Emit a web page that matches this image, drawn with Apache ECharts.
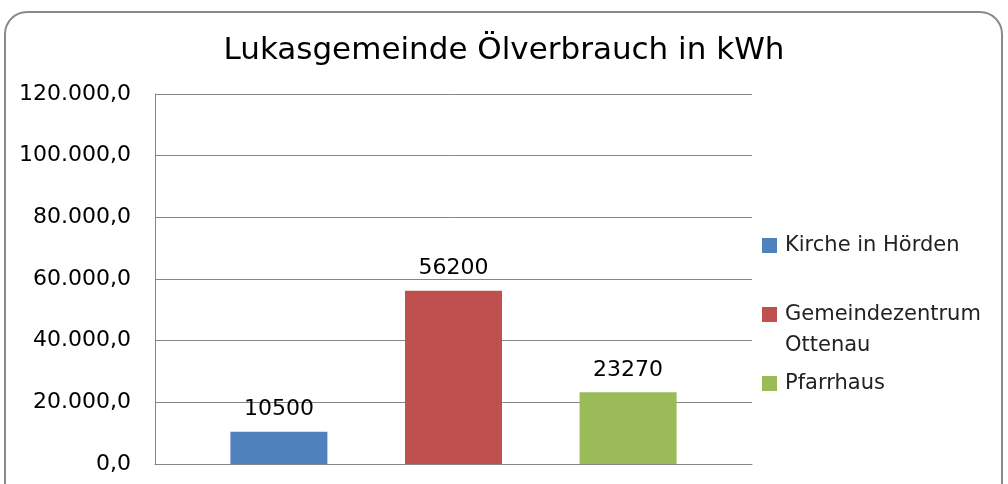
<!DOCTYPE html>
<html>
<head>
<meta charset="utf-8">
<script src="https://cdn.jsdelivr.net/npm/echarts@6/dist/echarts.min.js"></script>
<style>
  html, body { margin: 0; padding: 0; background: #fff; }
  #chart { width: 1008px; height: 484px; }
</style>
</head>
<body>
<div id="chart"></div>
<script>
const categories = [""];
const seriesNames = ["Kirche in Hörden", "Gemeindezentrum\nOttenau", "Pfarrhaus"];
const seriesValues = [[10500], [56200], [23270]];
const seriesColors = ["#4F81BD", "#C0504D", "#9BBB59"];
const yTicks = [0, 20000, 40000, 60000, 80000, 100000, 120000];

// German number format: 120.000,0
function deFormat(v) {
  const s = Math.round(v).toString().replace(/\B(?=(\d{3})+(?!\d))/g, ".");
  return s + ",0";
}

const chart = echarts.init(document.getElementById("chart"));

const font = "DejaVu Sans";

const chartOptions = {
  animation: false,
  title: {
    text: "Lukasgemeinde Ölverbrauch in kWh",
    left: "center",
    top: 30,
    textStyle: { fontFamily: font, fontSize: 31, fontWeight: "normal", color: "#000" },
  },
  graphic: [
    {
      type: "rect",
      shape: { x: 5, y: 12, width: 997, height: 500, r: 22 },
      style: { fill: "none", stroke: "#8a8a8a", lineWidth: 2 },
      silent: true,
    },
  ],
  legend: {
    orient: "vertical",
    left: 757,
    top: 225,
    itemGap: 7,
    itemWidth: 15,
    itemHeight: 15,
    icon: "rect",
    textStyle: { fontFamily: font, fontSize: 21, color: "#222", lineHeight: 31, padding: [0, 0, 0, 3] },
    // multi-line item: empty first line keeps the icon next to the first text line
    formatter: (name) => (name.indexOf("\n") >= 0 ? " \n" + name : name),
    data: seriesNames,
  },
  grid: {
    left: 155,
    right: 256,
    top: 94,
    bottom: 20,
  },
  xAxis: {
    type: "category",
    data: categories,
    axisLine: { lineStyle: { color: "#868686", width: 1 } },
    axisTick: { show: false },
    axisLabel: { show: false },
  },
  yAxis: {
    type: "value",
    min: yTicks[0],
    max: yTicks[yTicks.length - 1],
    interval: 20000,
    axisLine: { show: true, lineStyle: { color: "#868686", width: 1 } },
    axisTick: { show: false },
    splitLine: { lineStyle: { color: "#868686", width: 1 } },
    axisLabel: {
      margin: 24,
      fontFamily: font,
      fontSize: 22,
      color: "#000",
      formatter: deFormat,
    },
  },
  series: seriesNames.map((name, i) => ({
    name: name,
    type: "bar",
    barWidth: 97,
    barGap: "80%",
    itemStyle: { color: seriesColors[i] },
    label: {
      show: true,
      position: "top",
      distance: 11,
      fontFamily: font,
      fontSize: 22,
      color: "#000",
    },
    data: seriesValues[i],
  })),
};

chart.setOption(chartOptions);
</script>
</body>
</html>
